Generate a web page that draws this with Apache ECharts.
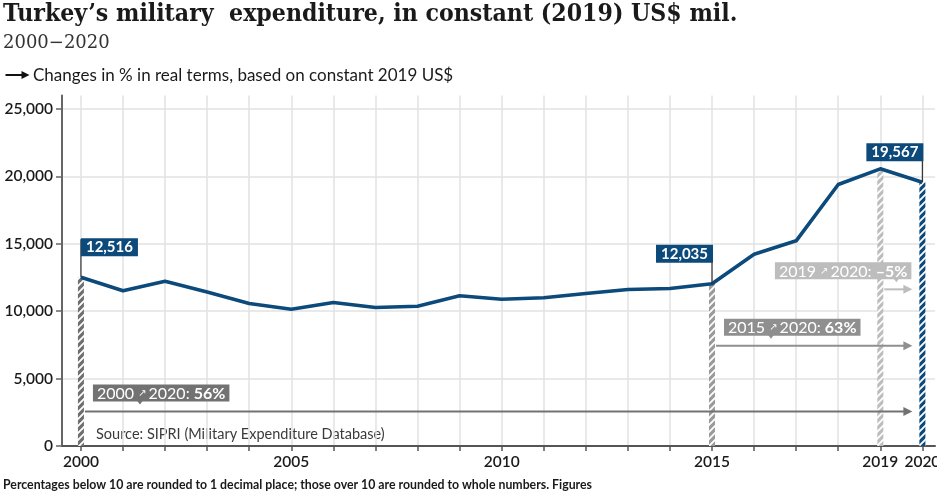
<!DOCTYPE html>
<html>
<head>
<meta charset="utf-8">
<script src="https://cdn.jsdelivr.net/npm/echarts@6/dist/echarts.min.js"></script>
<style>
  html, body { margin: 0; padding: 0; background: #ffffff; }
  #chart { width: 937px; height: 496px; }
</style>
</head>
<body>
<div id="chart"></div>
<script>
// Turkey's military expenditure, constant 2019 US$ million
const years = [2000, 2001, 2002, 2003, 2004, 2005, 2006, 2007, 2008, 2009, 2010,
               2011, 2012, 2013, 2014, 2015, 2016, 2017, 2018, 2019, 2020];
const spending = [12516, 11510, 12225, 11420, 10570, 10150, 10645, 10275, 10370, 11140, 10890,
                  10995, 11310, 11610, 11685, 12035, 14225, 15220, 19400, 20560, 19567];

// axis ticks and labels
const yTickValues = [0, 5000, 10000, 15000, 20000, 25000];
const xLabelYears = [2000, 2005, 2010, 2015, 2019, 2020];

// highlighted years: value callouts and hatched markers
const calloutYears = [2000, 2015, 2020];
const hatchYears = [2000, 2015, 2019, 2020];

// change comparisons towards the final year
const changeFromYears = [2000, 2015, 2019];
const changeToYear = 2020;
const changeTexts = ['56%', '63%', '\u20135%'];

const BLUE = '#0c4a7b';
const SANS = "Lato, 'Noto Sans', 'DejaVu Sans', sans-serif";
const SERIF_C = "'DejaVu Serif Condensed', 'DejaVu Serif', serif";
const SERIF = "'DejaVu Serif', serif";

const valueOf = (yr) => spending[years.indexOf(yr)];

// diagonal hatch fill used by the vertical year markers
function hatch(color) {
  const c = document.createElement('canvas');
  c.width = 7; c.height = 7;
  const g = c.getContext('2d');
  g.fillStyle = color;
  g.fillRect(0, 0, 7, 7);
  g.strokeStyle = '#ffffff';
  g.lineWidth = 1.8;
  g.beginPath();
  g.moveTo(-1, 8); g.lineTo(8, -1);
  g.moveTo(-4.5, 4.5); g.lineTo(4.5, -4.5);
  g.moveTo(2.5, 11.5); g.lineTo(11.5, 2.5);
  g.stroke();
  return { image: c, repeat: 'repeat' };
}
const hatchColors = ['#6f6f6f', '#9a9a9a', '#bdbdbd', BLUE];
const hatchFills = hatchColors.map(hatch);

// placement of the change arrows (in axis units) and their label boxes
const changeLayout = [
  { level: 2550, color: '#727272', anchor: 'left' },
  { level: 7440, color: '#8f8f8f', anchor: 'left' },
  { level: 11620, color: '#bdbdbd', anchor: 'right' }
];

const chart = echarts.init(document.getElementById('chart'), null, { renderer: 'canvas' });

const option = {
  animation: false,
  backgroundColor: '#ffffff',
  grid: { left: 62, right: 2, top: 95.5, bottom: 50, containLabel: false, outerBoundsMode: 'none' },
  xAxis: {
    type: 'value',
    min: 1999.55,
    max: 2020.3,
    axisLine: { show: true, lineStyle: { color: '#555555', width: 2 } },
    axisTick: {
      show: true, inside: false, length: 5,
      customValues: years,
      lineStyle: { color: '#555555', width: 1.5 }
    },
    axisLabel: {
      customValues: xLabelYears,
      formatter: (v) => String(v),
      margin: 8,
      color: '#1a1a1a',
      fontFamily: SANS,
      fontSize: 15.5,
      fontWeight: 600
    },
    splitLine: { show: true, lineStyle: { color: '#e2e2e2', width: 1.5 } }
  },
  yAxis: {
    type: 'value',
    min: 0,
    max: 26000,
    axisLine: { show: true, lineStyle: { color: '#666666', width: 2 } },
    axisTick: {
      show: true, length: 6,
      customValues: yTickValues,
      lineStyle: { color: '#666666', width: 1.5 }
    },
    axisLabel: {
      customValues: yTickValues,
      formatter: (v) => v.toLocaleString('en-US'),
      margin: 9,
      color: '#1a1a1a',
      fontFamily: SANS,
      fontSize: 15.5,
      fontWeight: 600
    },
    splitLine: { show: true, lineStyle: { color: '#e2e2e2', width: 1.5 } }
  },
  series: [
    {
      // hatched markers from the baseline up to the year's value
      type: 'custom',
      silent: true,
      z: 2,
      data: hatchYears.map((yr) => [yr, valueOf(yr)]),
      renderItem(params, api) {
        const top = api.coord([api.value(0), api.value(1)]);
        const base = api.coord([api.value(0), 0]);
        return {
          type: 'rect',
          shape: { x: top[0] - 3, y: top[1], width: 6, height: base[1] - top[1] },
          style: { fill: hatchFills[params.dataIndex] }
        };
      }
    },
    {
      // change arrows with their percentage boxes
      type: 'custom',
      silent: true,
      z: 3,
      data: changeFromYears.map((yr, i) => [yr, changeLayout[i].level]),
      renderItem(params, api) {
        const i = params.dataIndex;
        const lay = changeLayout[i];
        const from = api.coord([api.value(0), api.value(1)]);
        const to = api.coord([changeToYear, api.value(1)]);
        const y = from[1];
        const x0 = from[0] + 4;
        const x1 = to[0] - 10;
        const boxBottom = y - 10;
        const boxX = lay.anchor === 'left' ? from[0] + 12 : to[0] - 11;
        const pointerX = lay.anchor === 'left' ? boxX + 47 : boxX - 15;
        const txt = '{r|' + api.value(0) + ' }{s|\u2197}{r|\u2009' + changeToYear + ': }{b|' + changeTexts[i] + '}';
        return {
          type: 'group',
          children: [
            {
              type: 'line',
              shape: { x1: x0, y1: y, x2: x1 - 6, y2: y },
              style: { stroke: lay.color, lineWidth: 2 }
            },
            {
              type: 'polygon',
              shape: { points: [[x1 - 9, y - 4.5], [x1, y], [x1 - 9, y + 4.5]] },
              style: { fill: lay.color }
            },
            {
              type: 'polygon',
              shape: { points: [[pointerX - 3, boxBottom - 1], [pointerX + 3, boxBottom - 1], [pointerX, boxBottom + 3]] },
              style: { fill: lay.color }
            },
            {
              type: 'text',
              x: boxX,
              y: boxBottom,
              style: {
                text: txt,
                align: lay.anchor,
                verticalAlign: 'bottom',
                backgroundColor: lay.color,
                padding: [1, 4, 0, 4],
                rich: {
                  r: { fill: '#ffffff', fontFamily: SANS, fontSize: 16, lineHeight: 16 },
                  s: { fill: '#ffffff', fontFamily: "'DejaVu Sans', sans-serif", fontSize: 10, lineHeight: 16 },
                  b: { fill: '#ffffff', fontFamily: SANS, fontSize: 16, fontWeight: 'bold', lineHeight: 16 }
                }
              }
            }
          ]
        };
      }
    },
    {
      // expenditure line
      type: 'line',
      z: 4,
      silent: true,
      symbol: 'none',
      data: years.map((yr, i) => [yr, spending[i]]),
      lineStyle: { color: BLUE, width: 3.6, join: 'round' }
    },
    {
      // value callouts for selected years
      type: 'custom',
      silent: true,
      z: 5,
      data: calloutYears.map((yr) => [yr, valueOf(yr)]),
      renderItem(params, api) {
        const p = api.coord([api.value(0), api.value(1)]);
        const leftSide = params.dataIndex === 0;
        const boxBottom = p[1] - 21;
        return {
          type: 'group',
          children: [
            {
              type: 'line',
              shape: { x1: p[0], y1: p[1], x2: p[0], y2: boxBottom - 17 },
              style: { stroke: '#333333', lineWidth: 1.2 }
            },
            {
              type: 'text',
              x: leftSide ? p[0] : p[0] + 1,
              y: boxBottom,
              style: {
                text: api.value(1).toLocaleString('en-US'),
                align: leftSide ? 'left' : 'right',
                verticalAlign: 'bottom',
                fill: '#ffffff',
                fontFamily: SANS,
                fontSize: 15,
                fontWeight: 'bold',
                lineHeight: 16,
                backgroundColor: BLUE,
                padding: [1, 5, 1, 5]
              }
            }
          ]
        };
      }
    }
  ],
  graphic: [
    {
      type: 'text', left: 3, top: 2,
      style: {
        text: 'Turkey\u2019s military  expenditure, in constant (2019) US$ mil.',
        fill: '#1a1a1a', font: 'bold 24.6px ' + SERIF_C
      }
    },
    {
      type: 'text', left: 3, top: 34,
      style: { text: '2000\u22122020', fill: '#333333', font: '18px ' + SERIF }
    },
    {
      type: 'group', left: 3, top: 71,
      children: [
        { type: 'line', shape: { x1: 0, y1: 5, x2: 17, y2: 5 }, style: { stroke: '#111111', lineWidth: 2 } },
        { type: 'polygon', shape: { points: [[16, 1], [24, 5], [16, 9]] }, style: { fill: '#111111' } }
      ]
    },
    {
      type: 'text', left: 33, top: 67,
      style: {
        text: 'Changes in % in real terms, based on constant 2019 US$',
        fill: '#1a1a1a', font: '17px ' + SANS
      }
    },
    {
      type: 'text', left: 96, top: 427,
      style: {
        text: 'Source: SIPRI (Military Expenditure Database)',
        fill: '#3a3a3a', font: '14.5px ' + SANS
      }
    },
    {
      type: 'text', left: 3, top: 479,
      style: {
        text: 'Percentages below 10 are rounded to 1 decimal place; those over 10 are rounded to whole numbers. Figures',
        fill: '#1a1a1a', font: 'bold 12.3px ' + SANS
      }
    }
  ]
};

chart.setOption(option);
</script>
</body>
</html>
